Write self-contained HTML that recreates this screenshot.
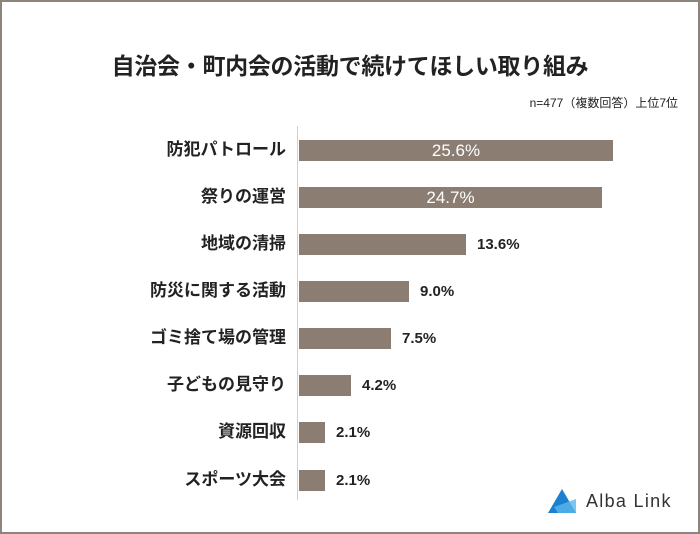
<!DOCTYPE html><html><head><meta charset="utf-8"><style>
body{margin:0;width:700px;height:534px;background:#fff;font-family:"Liberation Sans","Noto Sans CJK JP",sans-serif;}
.f{position:absolute;left:0;top:0;width:696px;height:530px;border:2px solid #8d847c;}
.t{position:absolute;left:0;width:700px;top:47px;text-align:center;font-size:23px;font-weight:bold;color:#222;letter-spacing:-0.3px}
.s{position:absolute;right:22px;top:94px;font-size:12px;color:#222;}
.ax{position:absolute;left:297px;top:126px;width:1px;height:374px;background:#d0d0d0;}
.l{position:absolute;right:414px;font-size:17px;font-weight:bold;color:#222;line-height:22px;white-space:nowrap;}
.b{position:absolute;left:299px;height:21px;background:#8b7d72;color:#fff;font-size:17px;line-height:21px;text-align:center;}
.v{position:absolute;font-size:15px;font-weight:bold;color:#222;line-height:21px;}
</style></head><body>
<div class="f"></div>
<div class="t">自治会・町内会の活動で続けてほしい取り組み</div>
<div class="s">n=477（複数回答）上位7位</div>
<div class="ax"></div>
<div class="l" style="top:139px">防犯パトロール</div><div class="b" style="top:140px;width:314px">25.6%</div>
<div class="l" style="top:186px">祭りの運営</div><div class="b" style="top:187px;width:303px">24.7%</div>
<div class="l" style="top:233px">地域の清掃</div><div class="b" style="top:234px;width:167px"></div><div class="v" style="left:477px;top:234px">13.6%</div>
<div class="l" style="top:280px">防災に関する活動</div><div class="b" style="top:281px;width:110px"></div><div class="v" style="left:420px;top:281px">9.0%</div>
<div class="l" style="top:327px">ゴミ捨て場の管理</div><div class="b" style="top:328px;width:92px"></div><div class="v" style="left:402px;top:328px">7.5%</div>
<div class="l" style="top:374px">子どもの見守り</div><div class="b" style="top:375px;width:52px"></div><div class="v" style="left:362px;top:375px">4.2%</div>
<div class="l" style="top:421px">資源回収</div><div class="b" style="top:422px;width:26px"></div><div class="v" style="left:336px;top:422px">2.1%</div>
<div class="l" style="top:469px">スポーツ大会</div><div class="b" style="top:470px;width:26px"></div><div class="v" style="left:336px;top:470px">2.1%</div>
<svg style="position:absolute;left:546px;top:487px" width="32" height="28"><polygon points="16,2 2,26 30,26" fill="#1d7fd0"/><polygon points="8,20 30,12 30,26 12,26" fill="#5ab8ea" opacity=".8"/></svg>
<div style="position:absolute;left:586px;top:491px;font-size:18px;color:#333;letter-spacing:1.3px">Alba Link</div>
</body></html>
